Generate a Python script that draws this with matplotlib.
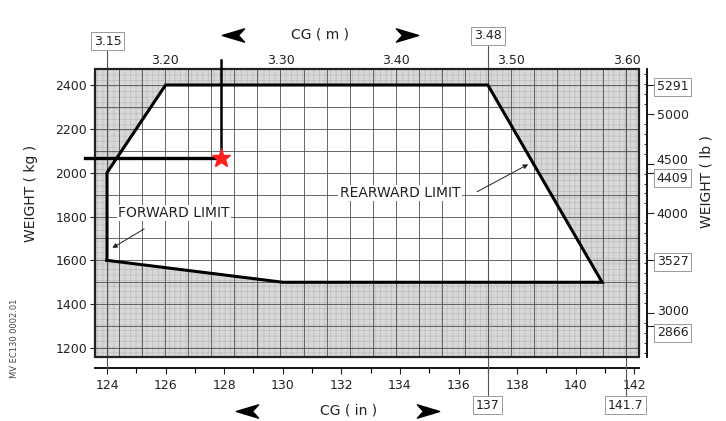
import numpy as np
import matplotlib.pyplot as plt
from matplotlib import transforms
from matplotlib.patches import Rectangle, Polygon
from matplotlib.lines import Line2D
from matplotlib.path import Path

plt.rcParams['font.family'] = ['DejaVu Sans']
plt.rcParams['hatch.linewidth'] = 0.5

IN_PER_M = 1 / 0.0254
LB_PER_KG = 2.20462

# weight & balance envelope (CG in inches, weight in kg)
env_cg_in = [124.0, 124.0, 126.0, 137.0, 140.9, 130.0, 124.0]
env_kg = [1600, 2000, 2400, 2400, 1500, 1500, 1600]

# loaded point
load_cg_in = 127.9
load_kg = 2065

kg_ticks = [1200, 1400, 1600, 1800, 2000, 2200, 2400]
in_ticks = [124, 126, 128, 130, 132, 134, 136, 138, 140, 142]
m_ticks = [3.20, 3.30, 3.40, 3.50, 3.60]
lb_ticks = [5291, 5000, 4500, 4409, 4000, 3527, 3000, 2866]
lb_boxed = [5291, 4409, 3527, 2866]
m_boxed = [3.15, 3.48]
in_boxed = [137, 141.7]

ink = '#222222'
W, H = 726, 421

fig = plt.figure(figsize=(7.26, 4.21), dpi=100)
ax = fig.add_axes([95 / W, 1 - 357 / H, 544 / W, 288 / H])
ax.set_xlim(123.59, 142.16)
ax.set_ylim(1159, 2473)
ax.patch.set_visible(False)

# shaded (out of limits) area, then white envelope
ax.add_patch(Rectangle((0, 0), 1, 1, transform=ax.transAxes, facecolor='#d8d8d8',
                       edgecolor='#bcbcbc', hatch='+++', lw=0, zorder=0))
ax.add_patch(Polygon(np.column_stack([env_cg_in, env_kg]), closed=True,
                     facecolor='white', edgecolor='none', zorder=1))

# grid: 0.02 m and 100 kg
for m in np.arange(3.16, 3.601, 0.02):
    ax.axvline(m * IN_PER_M, color='#505050', lw=0.6, zorder=2)
for kg in range(1200, 2401, 100):
    ax.axhline(kg, color='#505050', lw=0.6, zorder=2)

ax.plot(env_cg_in, env_kg, color='black', lw=2.2, zorder=4, solid_joinstyle='miter')
ax.add_patch(Rectangle((0, 0), 1, 1, transform=ax.transAxes, fill=False,
                       edgecolor=ink, lw=1.6, zorder=5, clip_on=False))

# axes styling
for s in ['top', 'right', 'left']:
    ax.spines[s].set_visible(False)
ax.spines['bottom'].set_position(('outward', 7.9))
ax.spines['bottom'].set_linewidth(1.3)
ax.set_xticks(in_ticks)
ax.set_xticks(range(125, 142, 2), minor=True)
ax.tick_params(axis='x', which='major', direction='out', length=4, width=0.8,
               pad=4, labelsize=9, colors=ink)
ax.tick_params(axis='x', which='minor', direction='out', length=3.5, width=0.8)
ax.set_yticks(kg_ticks)
ax.tick_params(axis='y', direction='out', length=3.6, width=0.8, pad=2,
               labelsize=9, colors=ink)

sec = ax.secondary_xaxis('top', functions=(lambda x: x / IN_PER_M, lambda m: m * IN_PER_M))
sec.set_xticks(m_ticks, labels=[f'{m:.2f}' for m in m_ticks])
sec.tick_params(length=0, pad=1.5, labelsize=9, colors=ink)
for s in sec.spines.values():
    s.set_visible(False)

ax2 = ax.twinx()
ax2.set_ylim(1159 * LB_PER_KG, 2473 * LB_PER_KG)
for s in ['top', 'left', 'bottom']:
    ax2.spines[s].set_visible(False)
ax2.spines['right'].set_position(('outward', 5.8))
ax2.spines['right'].set_linewidth(1.3)
ax2.set_yticks(lb_ticks, labels=[str(v) for v in lb_ticks])
ax2.set_yticks(range(2600, 5401, 100), minor=True)
ax2.tick_params(axis='y', which='major', direction='out', length=5, width=0.8,
                pad=2, labelsize=9, colors=ink)
ax2.tick_params(axis='y', which='minor', direction='in', length=2.5, width=0.6)
# nudge crowded labels apart (pixels, positive = up)
nudge = {4500: 5, 4409: -4, 3000: 3, 2866: -5}
for lbl, v in zip(ax2.get_yticklabels(), lb_ticks):
    if v in lb_boxed:
        lbl.set_bbox(dict(facecolor='white', edgecolor='#999999', lw=0.7, pad=1.8))
    if v in nudge:
        lbl.set_transform(lbl.get_transform() +
                          transforms.ScaledTranslation(0, nudge[v] / 100, fig.dpi_scale_trans))

blend = transforms.blended_transform_factory(ax.transData, ax.transAxes)
box = dict(facecolor='white', edgecolor='#999999', lw=0.7, pad=2)

# reference lines with boxed values
top_y = {3.15: 1.097, 3.48: 1.115}
for m in m_boxed:
    ax.text(m * IN_PER_M, top_y[m], f'{m:.2f}', transform=blend, ha='center',
            va='center', fontsize=9, color=ink, bbox=box, zorder=6)
for i in in_boxed:
    ax.text(i, -0.167, f'{i:g}', transform=blend, ha='center', va='center',
            fontsize=9, color=ink, bbox=box, zorder=6)
ax.plot([124, 124], [1.073, -0.038], transform=blend, color='#555555', lw=0.8,
        clip_on=False, zorder=3)
ax.plot([137, 137], [1.083, -0.135], transform=blend, color='#555555', lw=0.8,
        clip_on=False, zorder=3)
ax.plot([141.7, 141.7], [1.0, -0.135], transform=blend, color='#555555', lw=0.8,
        clip_on=False, zorder=3)

# loaded CG point
ax.plot([123.25, load_cg_in], [load_kg, load_kg], color='black', lw=2.4,
        clip_on=False, zorder=6)
ax.plot([load_cg_in, load_cg_in], [load_kg, 2514], color='black', lw=1.8,
        clip_on=False, zorder=6)
ax.plot([load_cg_in], [load_kg], marker='*', ms=14, color='#ff1f1f',
        mec='#ff1f1f', zorder=7, clip_on=False)

# limit annotations
ax.text(124.38, 1816, 'FORWARD LIMIT', fontsize=10, color=ink, ha='left',
        va='center', zorder=6, bbox=dict(facecolor='white', edgecolor='none', pad=1))
ax.annotate('', xy=(124.1, 1650), xytext=(125.35, 1750),
            arrowprops=dict(arrowstyle='-|>', color=ink, lw=0.7, mutation_scale=7),
            zorder=6)
ax.text(134.0, 1907, 'REARWARD LIMIT', fontsize=10, color=ink, ha='center',
        va='center', zorder=6, bbox=dict(facecolor='white', edgecolor='none', pad=1))
ax.annotate('', xy=(138.46, 2044), xytext=(136.55, 1907),
            arrowprops=dict(arrowstyle='-|>', color=ink, lw=0.7, mutation_scale=7),
            zorder=6)

# axis titles
fig.text(320 / W, 1 - 35 / H, 'CG ( m )', ha='center', va='center', fontsize=10, color=ink)
fig.text(349 / W, 1 - 411 / H, 'CG ( in )', ha='center', va='center', fontsize=10, color=ink)
fig.text(31 / W, 1 - 193 / H, 'WEIGHT ( kg )', rotation=90, ha='center', va='center',
         fontsize=10, color=ink)
fig.text(706 / W, 1 - 182 / H, 'WEIGHT ( lb )', rotation=90, ha='center', va='center',
         fontsize=10, color=ink)
fig.text(15 / W, 1 - 338 / H, 'MV EC130 0002.01', rotation=90, ha='center', va='center',
         fontsize=6, color='#444444')

# direction arrowheads
head = Path([(-1, 0), (1, 0.6), (0.45, 0), (1, -0.6), (-1, 0)],
            [Path.MOVETO, Path.LINETO, Path.LINETO, Path.LINETO, Path.CLOSEPOLY])
head_r = Path([(1, 0), (-1, 0.6), (-0.45, 0), (-1, -0.6), (1, 0)],
              [Path.MOVETO, Path.LINETO, Path.LINETO, Path.LINETO, Path.CLOSEPOLY])
for (px, py), mk in [((233, 35), head), ((407, 35), head_r),
                     ((247, 411), head), ((428, 411), head_r)]:
    fig.add_artist(Line2D([px / W], [1 - py / H], marker=mk, ms=16, color='black',
                          lw=0, transform=fig.transFigure))

fig.savefig('out.png', dpi=100)
